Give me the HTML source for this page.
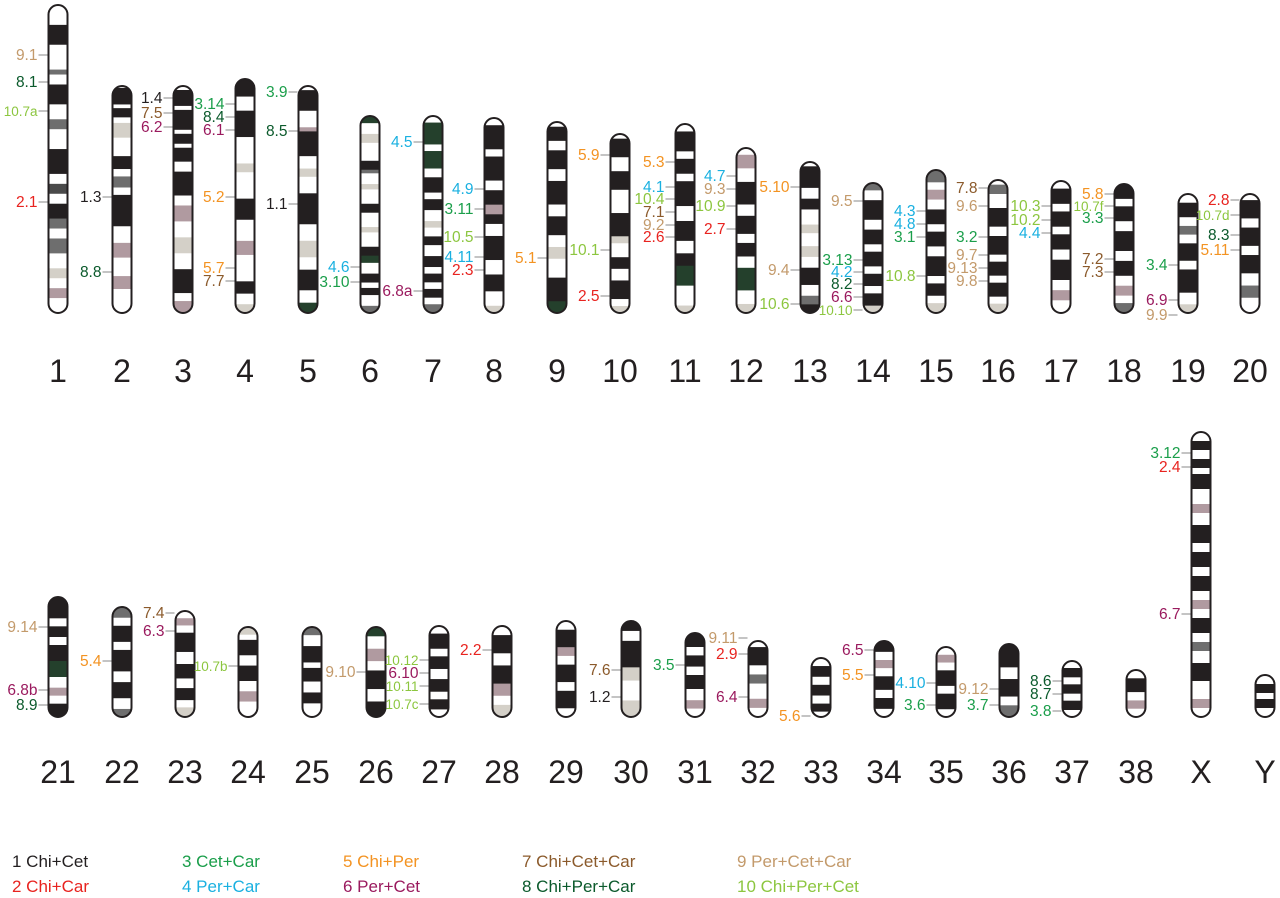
<!DOCTYPE html>
<html><head><meta charset="utf-8"><style>
html,body{margin:0;padding:0;background:#fff;}
svg{display:block;font-family:"Liberation Sans",sans-serif;}
</style></head><body>
<svg id="chart" width="1280" height="898" viewBox="0 0 1280 898" xmlns="http://www.w3.org/2000/svg"></svg>
<script>
const names=["1","2","3","4","5","6","7","8","9","10","11","12","13","14","15","16","17","18","19","20",
"21","22","23","24","25","26","27","28","29","30","31","32","33","34","35","36","37","38","X","Y"];
const centers=[58,122,183,245,308,370,433,494,557,620,685,746,810,873,936,998,1061,1124,1188,1250,
58,122,185,248,312,376,439,502,566,631,695,758,821,884,946,1009,1072,1136,1201,1265];
const tops=[5,86,86,79,86,116,116,118,122,134,124,148,162,183,170,180,181,184,194,194,
597,607,611,627,627,627,626,626,621,621,633,641,658,641,647,644,661,670,432,675];
const bands=[
"w4k4w5m1w2k4w3m2w4k5w2D2w2k3m2w2m3w3g2w2p2w3",
"w1k9w2k5w3g8w10k7w4m6w4k17w9p8w10p7w13",
"w2k8w2k10w2k5w2k7w5k12w5p8w8g8w8k12w4p6",
"k10w8k15w15g5w15k12w12p8w15k7w6g5",
"w2k10w8p2k12w6g4w8k15w8g8w6k10w6d5",
"d4w6g5w10k5m2w6g3w8k5w8g3w8k5d4w6k5w3k4w6m4",
"w3d10w3d8w4k7w3k5w5g3w4k4w5k5w3k4w3k4w3m4",
"w3k10w3k10w4k6p4k4w5k10w6k7w6g3",
"w2k6w4k8w5k10w5k8w5g5w8k10d5",
"w2k8w6k8w10k10g3w6k5w5k8w3g3",
"w3k8w3k6w3k10w6k8w5k5d8w8g3",
"w3p6w6k10w5k8w4k6w5d10w6g4",
"w2k10w5k5w7g4w6g5w5k8w5m4k4",
"m3w4k8w4k6w3k6w3k5w3k5g3",
"m5w3p4w4k6w3k6w4k8w3k5w3g4",
"w2m4w6k8w4k8w3k6w3k6w3g4",
"w3k6w3k6w3k6w4k8w4p4w5",
"k6w3k6w4k8w4k6w4p4w3m4",
"w3k5w3m3w3k6w3k8w4g3",
"w2k6w3k6w3k6w4m4w5",
"k8w3k4w3k6d6w4p3w3k5",
"m4w3k6w3k8w4k6w4m3",
"w3p3w3k8w5k6w4k5w3g4",
"g3w2k6w4k6w4p4w6",
"m3w4k6w2k5w4k4w5",
"d3w4p4w3k6w4k5",
"w3k6w3k5w4k5w3k4w3",
"w3k6w4k6p4w3g4",
"w3k6p3w3k6w3k6w3",
"k3w3k8g4w6g5",
"k5w3k4w3k5w4p3w3",
"w2k6w3m3w5p3w3",
"w3k4w3k4w3k3w2",
"k4w3p3w3k5w3k4w3",
"w3p3w3k6w3k6w3",
"k8w4k6w3m4",
"w3k4w3k4w3k4w3",
"w3k5w3p3w3",
"w3k3w3k3w2k5w5p3w4k6w3k5w3k5w3p3w3k5w3m3w4k6w6p3w3",
"w3k3w2k3w3"];
const catColors=["#231f20","#e8231f","#1a9e4a","#1ab0e0","#f39322","#9a1a5e","#8b5a2b","#0b5a2c","#c39a6b","#8cc63f"];
const labelChrom=[0,0,0,0,1,1,2,2,2,3,3,3,3,3,3,4,4,4,5,5,6,6,7,7,7,7,7,8,9,9,9,10,10,10,10,10,10,11,11,11,11,12,12,12,13,13,13,13,13,13,14,14,14,14,15,15,15,15,15,15,16,16,16,17,17,17,17,17,18,18,18,19,19,19,19,
20,20,20,21,22,22,23,25,26,26,26,26,27,29,29,30,31,31,31,32,33,33,34,34,35,35,36,36,36,38,38,38];
const labelY=[55,82,111,202,197,272,98,113,127,104,117,130,197,268,281,92,131,204,267,282,142,291,189,209,237,257,270,258,155,250,296,162,187,199,212,225,237,176,189,206,229,187,270,304,201,260,272,284,297,310,211,224,237,276,188,206,237,255,268,281,206,220,233,194,206,218,259,272,265,300,315,200,215,235,250,
627,690,705,661,613,631,666,672,660,673,686,704,650,670,697,665,638,654,697,716,650,675,683,705,689,705,681,694,711,453,467,614];
const labelText=["9.1","8.1","10.7a","2.1","1.3","8.8","1.4","7.5","6.2","3.14","8.4","6.1","5.2","5.7","7.7","3.9","8.5","1.1","4.6","3.10","4.5","6.8a","4.9","3.11","10.5","4.11","2.3","5.1","5.9","10.1","2.5","5.3","4.1","10.4","7.1","9.2","2.6","4.7","9.3","10.9","2.7","5.10","9.4","10.6","9.5","3.13","4.2","8.2","6.6","10.10","4.3","4.8","3.1","10.8","7.8","9.6","3.2","9.7","9.13","9.8","10.3","10.2","4.4","5.8","10.7f","3.3","7.2","7.3","3.4","6.9","9.9","2.8","10.7d","8.3","5.11",
"9.14","6.8b","8.9","5.4","7.4","6.3","10.7b","9.10","10.12","6.10","10.11","10.7c","2.2","7.6","1.2","3.5","9.11","2.9","6.4","5.6","6.5","5.5","4.10","3.6","9.12","3.7","8.6","8.7","3.8","3.12","2.4","6.7"];
const legendText=["1 Chi+Cet","2 Chi+Car","3 Cet+Car","4 Per+Car","5 Chi+Per","6 Per+Cet","7 Chi+Cet+Car","8 Chi+Per+Car","9 Per+Cet+Car","10 Chi+Per+Cet"];

const NS="http://www.w3.org/2000/svg";
const svg=document.getElementById('chart');
function mk(t,a,p){const e=document.createElementNS(NS,t);for(const k in a)e.setAttribute(k,a[k]);(p||svg).appendChild(e);return e;}
const fill={k:"#231f20",w:"#ffffff",g:"#d4d0c8",p:"#b09aa0",m:"#6e6e6e",d:"#24402c",D:"#4a4a4a"};
const W=19;
names.forEach((n,i)=>{
  const cx=centers[i], top=tops[i], bot=i<20?313:717, h=bot-top, x=cx-W/2;
  const g=mk('g',{});
  
  
  const cp=mk('clipPath',{id:'cp'+i},g);
  mk('rect',{x:x,y:top,width:W,height:h,rx:9.5,ry:9.5},cp);
  const segs=[...bands[i].matchAll(/([a-zA-Z])(\d+)/g)].map(m=>[m[1],+m[2]]);
  const tot=segs.reduce((s,a)=>s+a[1],0);
  let y=top;
  const bg=mk('g',{'clip-path':'url(#cp'+i+')'},g);
  segs.forEach(s=>{const hh=s[1]/tot*h;const r=mk('rect',{x:x,y:y,width:W,height:hh+0.3,fill:fill[s[0]]},bg);
    
    
    y+=hh;});
  mk('rect',{x:x,y:top,width:W,height:h,rx:9.5,ry:9.5,fill:'none',stroke:'#231f20','stroke-width':2},g);
  const t=mk('text',{x:cx,y:i<20?382:783,'text-anchor':'middle','font-size':32,fill:'#231f20'});
  t.textContent=n;
  
  
});
labelText.forEach((s,j)=>{
  const ci=labelChrom[j], cx=centers[ci], yy=labelY[j];
  const cat=parseInt(s.split('.')[0])-1;
  const x2=cx-W/2-1, x1=x2-9;
  mk('line',{x1:x1,y1:yy,x2:x2,y2:yy,stroke:'#888','stroke-width':1});
  const t=mk('text',{x:x1-1,y:yy+5,'text-anchor':'end','font-size':s.length>4?13.5:15.5,fill:catColors[cat]});
  t.textContent=s;
  
  
});
const lx=[12,182,343,522,737];
legendText.forEach((s,j)=>{
  const t=mk('text',{x:lx[Math.floor(j/2)],y:j%2?892:867,'font-size':17,fill:catColors[j]});
  t.textContent=s;
  
  
});
</script>
</body></html>
